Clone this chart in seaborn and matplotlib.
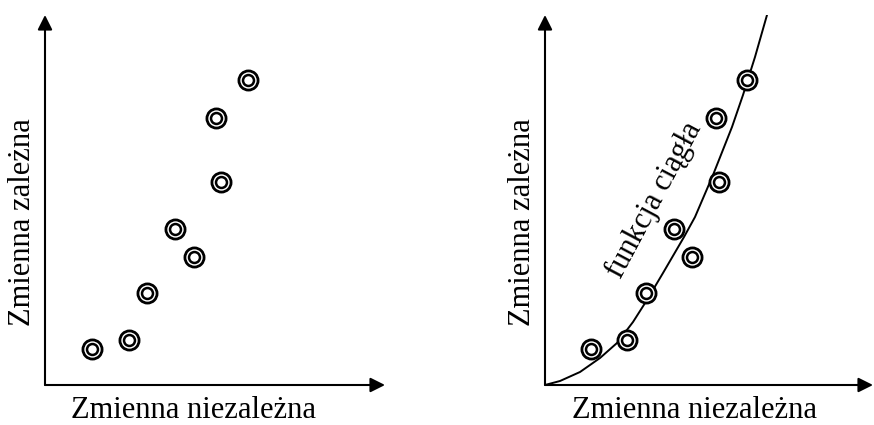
import pandas as pd
import matplotlib.pyplot as plt
import seaborn as sns

sns.set_theme(style="white")
plt.rcParams['font.family'] = ['Liberation Serif', 'DejaVu Serif']
plt.rcParams['text.color'] = 'black'
plt.rcParams['axes.labelcolor'] = 'black'

# Points (units = pixels from the axes origin)
left_x = [47, 84, 102, 130, 149, 171, 176, 203]
left_y = [36, 45, 92, 156, 128, 267, 203, 305]
right_x = [46, 82, 101, 129, 147, 171, 174, 202]
right_y = [36, 45, 92, 156, 128, 267, 203, 305]

# Continuous curve on the right panel
curve_x = [0, 15, 35, 55, 72, 88, 102, 118, 139, 150, 168, 187, 198, 210, 222]
curve_y = [0, 4, 13, 27, 42, 63, 85, 112, 148, 168, 210, 258, 290, 328, 370]

x_label = "Zmienna niezależna"
y_label = "Zmienna zależna"
curve_label = "funkcja ciągła"

fig = plt.figure(figsize=(8.74, 4.25), dpi=100)
ax1 = fig.add_axes([45 / 874, 40 / 425, 340 / 874, 370 / 425])
ax2 = fig.add_axes([545 / 874, 40 / 425, 328 / 874, 370 / 425])


def draw_points(ax, xs, ys):
    # double ring marker: big ring + small ring on top
    df = pd.DataFrame({"x": xs, "y": ys})
    sns.scatterplot(data=df, x="x", y="y", ax=ax, s=190, color="white",
                    edgecolor="black", linewidth=2.0, zorder=3)
    sns.scatterplot(data=df, x="x", y="y", ax=ax, s=62, color="white",
                    edgecolor="black", linewidth=1.8, zorder=4)


def style_axes(ax, xmax, xlab_pos):
    ax.set_xlim(0, xmax)
    ax.set_ylim(0, 370)
    for s in ax.spines.values():
        s.set_visible(False)
    ax.set_xticks([])
    ax.set_yticks([])
    ax.set_xlabel(x_label, fontsize=22, labelpad=8)
    ax.set_ylabel(y_label, fontsize=22, labelpad=6)
    ax.xaxis.label.set_x(xlab_pos)
    ax.yaxis.label.set_y(0.44)
    arrow = dict(arrowstyle="-|>", color="black", lw=1.5, mutation_scale=22,
                 shrinkA=0, shrinkB=0)
    ax.annotate("", xy=(1, 0), xytext=(0, 0), xycoords="axes fraction",
                arrowprops=arrow, annotation_clip=False)
    ax.annotate("", xy=(0, 1), xytext=(0, 0), xycoords="axes fraction",
                arrowprops=arrow, annotation_clip=False)


draw_points(ax1, left_x, left_y)
style_axes(ax1, 340, 0.438)

sns.lineplot(x=curve_x, y=curve_y, ax=ax2, color="black", lw=1.4,
             sort=False, zorder=2)
draw_points(ax2, right_x, right_y)
style_axes(ax2, 328, 0.457)
ax2.text(110, 185, curve_label, rotation=62, fontsize=22,
         ha="center", va="center")

fig.savefig("out.png", dpi=100)
